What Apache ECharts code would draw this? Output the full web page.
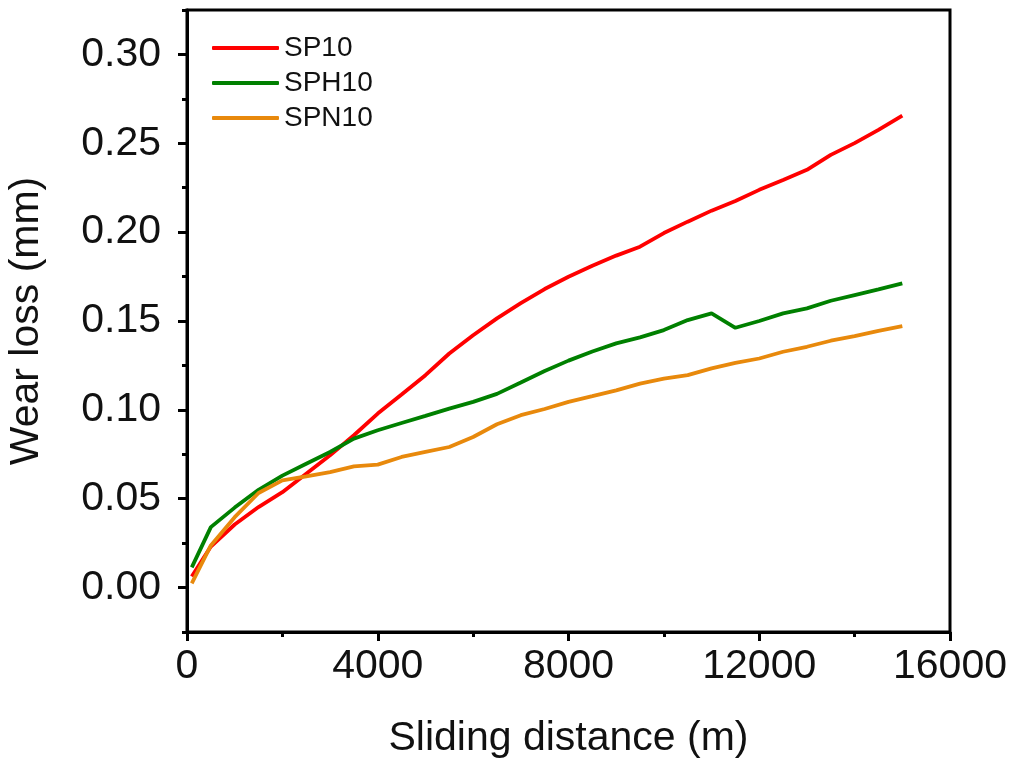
<!DOCTYPE html>
<html>
<head>
<meta charset="utf-8">
<script src="https://cdn.jsdelivr.net/npm/echarts@6/dist/echarts.min.js"></script>
<style>
  html, body { margin: 0; padding: 0; background: #fff; }
  #chart { width: 1012px; height: 759px; }
</style>
</head>
<body>
<div id="chart"></div>
<script>
// sliding distance (m)
const distance = [100, 500, 1000, 1500, 2000, 2500, 3000, 3500, 4000, 4500, 5000,
  5500, 6000, 6500, 7000, 7500, 8000, 8500, 9000, 9500, 10000,
  10500, 11000, 11500, 12000, 12500, 13000, 13500, 14000, 14500, 15000];

// wear loss (mm)
const sp10 = [0.0062, 0.0231, 0.0355, 0.0453, 0.0537, 0.0641, 0.0744, 0.0857, 0.0979, 0.1086, 0.1195,
  0.1317, 0.1420, 0.1515, 0.1600, 0.1680, 0.1749, 0.1811, 0.1868, 0.1918, 0.1995,
  0.2059, 0.2121, 0.2175, 0.2238, 0.2294, 0.2351, 0.2435, 0.2501, 0.2575, 0.2655];
const sph10 = [0.0114, 0.0340, 0.0450, 0.0550, 0.0630, 0.0697, 0.0763, 0.0838, 0.0885, 0.0926, 0.0966,
  0.1007, 0.1045, 0.1090, 0.1154, 0.1219, 0.1277, 0.1328, 0.1374, 0.1408, 0.1449,
  0.1505, 0.1543, 0.1462, 0.1500, 0.1543, 0.1571, 0.1614, 0.1646, 0.1678, 0.1712];
const spn10 = [0.0024, 0.0237, 0.0396, 0.0532, 0.0603, 0.0626, 0.0650, 0.0682, 0.0692, 0.0735, 0.0763,
  0.0791, 0.0847, 0.0919, 0.0970, 0.1005, 0.1045, 0.1077, 0.1110, 0.1148, 0.1176,
  0.1195, 0.1233, 0.1264, 0.1289, 0.1327, 0.1355, 0.1389, 0.1415, 0.1445, 0.1471];

const yMajorTicks = [0, 0.05, 0.10, 0.15, 0.20, 0.25, 0.30];

const FONT = "'Liberation Sans', Arial, sans-serif";
const SERIES = [
  { name: 'SP10', data: sp10, color: '#ff0000' },
  { name: 'SPH10', data: sph10, color: '#008000' },
  { name: 'SPN10', data: spn10, color: '#e8890c' },
];

const chart = echarts.init(document.getElementById('chart'));

const yBase = {
  type: 'value',
  min: -0.025,
  max: 0.325,
  interval: 0.025,
  splitLine: { show: false },
};

chart.setOption({
  animation: false,
  backgroundColor: '#fff',
  grid: {
    left: 187, right: 62, top: 10, bottom: 127,
    outerBoundsMode: 'none',
    show: true, borderColor: '#000', borderWidth: 3,
  },
  legend: {
    orient: 'vertical',
    left: 207,
    top: 29,
    icon: 'roundRect',
    itemWidth: 67,
    itemHeight: 4,
    itemGap: 7,
    textStyle: { fontFamily: FONT, fontSize: 28, color: '#111' },
    data: SERIES.map(s => s.name),
  },
  xAxis: {
    type: 'value',
    min: 0,
    max: 16000,
    interval: 4000,
    name: 'Sliding distance (m)',
    nameLocation: 'middle',
    nameGap: 86,
    nameTextStyle: { fontFamily: FONT, fontSize: 41, color: '#111' },
    axisLine: { onZero: false, lineStyle: { color: '#000', width: 3 } },
    axisTick: { length: 9, lineStyle: { color: '#000', width: 3 } },
    minorTick: { show: true, splitNumber: 2, length: 5, lineStyle: { color: '#000', width: 3 } },
    axisLabel: { fontFamily: FONT, fontSize: 41, color: '#111', margin: 14, formatter: v => String(v) },
    splitLine: { show: false },
  },
  yAxis: [
    {
      ...yBase,
      name: 'Wear loss (mm)',
      nameLocation: 'middle',
      nameGap: 140,
      nameTextStyle: { fontFamily: FONT, fontSize: 41, color: '#111' },
      axisLine: { lineStyle: { color: '#000', width: 3 } },
      axisTick: { length: 5, lineStyle: { color: '#000', width: 3 } },
      axisLabel: {
        fontFamily: FONT, fontSize: 41, color: '#111', margin: 26,
        formatter: v => (Math.round(v * 1000) % 50 === 0 && v >= 0 && v <= 0.3 ? v.toFixed(2) : ''),
      },
    },
    {
      ...yBase,
      position: 'left',
      axisLine: { show: false },
      axisLabel: { show: false },
      axisTick: { length: 9, customValues: yMajorTicks, lineStyle: { color: '#000', width: 3 } },
    },
  ],
  series: SERIES.map(s => ({
    name: s.name,
    type: 'line',
    yAxisIndex: 0,
    symbol: 'none',
    showSymbol: false,
    data: distance.map((d, i) => [d, s.data[i]]),
    lineStyle: { color: s.color, width: 3.8 },
    itemStyle: { color: s.color },
  })),
});
</script>
</body>
</html>
